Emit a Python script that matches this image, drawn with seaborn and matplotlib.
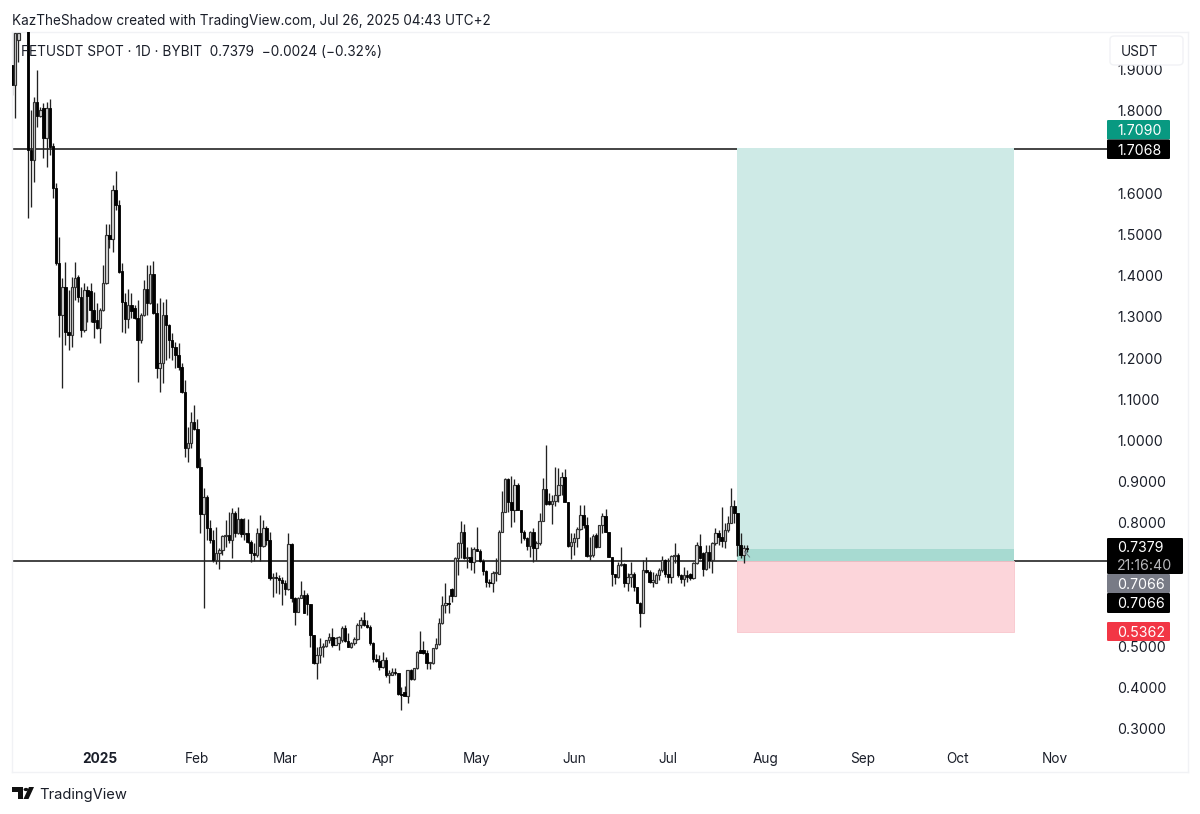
import matplotlib
matplotlib.use("Agg")
import matplotlib.pyplot as plt
import matplotlib.dates as mdates
from matplotlib.patches import FancyBboxPatch, Polygon, Rectangle
import pandas as pd
import seaborn as sns

start_date = "2024-12-04"
opens = [1.912,1.863,1.972,2.02,2.15,2.10,1.705,1.681,1.822,1.788,
1.807,1.734,1.807,1.715,1.613,1.431,1.305,1.373,1.264,1.256,
1.373,1.397,1.349,1.268,1.366,1.363,1.317,1.293,1.273,1.317,
1.383,1.499,1.489,1.608,1.572,1.412,1.336,1.295,1.329,1.322,
1.298,1.244,1.305,1.368,1.334,1.404,1.310,1.176,1.188,1.305,
1.281,1.244,1.227,1.208,1.179,1.118,.982,.994,1.045,1.028,
.936,.822,.863,.788,.759,.710,.727,.734,.768,.771,
.759,.824,.776,.810,.773,.776,.754,.727,.722,.776,
.744,.788,.759,.667,.669,.667,.662,.654,.640,.749,
.618,.584,.618,.625,.625,.603,.528,.460,.480,.499,
.502,.516,.523,.504,.509,.516,.545,.514,.499,.509,
.518,.552,.564,.552,.547,.509,.470,.465,.450,.468,
.431,.431,.438,.436,.385,.390,.380,.443,.421,.448,
.492,.492,.485,.460,.460,.497,.506,.557,.601,.606,
.640,.623,.715,.752,.778,.715,.717,.705,.737,.732,
.708,.684,.657,.655,.679,.676,.778,.827,.907,.851,
.832,.892,.832,.778,.764,.744,.778,.739,.752,.805,
.883,.853,.846,.853,.868,.892,.912,.851,.744,.754,
.764,.785,.819,.795,.720,.722,.771,.742,.795,.817,
.778,.717,.676,.669,.698,.700,.654,.669,.676,.645,
.606,.582,.686,.681,.657,.655,.674,.686,.710,.676,
.669,.720,.722,.674,.664,.674,.676,.667,.703,.744,
.727,.688,.730,.710,.752,.776,.766,.756,.783,.800,
.841,.824,.747,.722,.7403]
closes = [1.863,1.989,1.989,2.15,2.10,1.705,1.681,1.822,1.788,1.802,
1.734,1.807,1.713,1.613,1.431,1.305,1.373,1.264,1.256,1.373,
1.395,1.349,1.268,1.366,1.352,1.317,1.288,1.273,1.317,1.383,
1.499,1.489,1.608,1.572,1.409,1.336,1.295,1.329,1.315,1.298,
1.244,1.305,1.368,1.334,1.404,1.310,1.176,1.188,1.305,1.281,
1.244,1.227,1.208,1.179,1.118,.982,.994,1.045,1.028,.936,
.822,.863,.788,.759,.710,.727,.734,.768,.771,.759,
.824,.776,.810,.773,.776,.754,.727,.722,.776,.744,
.788,.759,.667,.669,.667,.662,.654,.640,.749,.618,
.584,.618,.625,.582,.603,.528,.460,.480,.499,.502,
.516,.523,.504,.521,.523,.545,.514,.499,.509,.518,
.552,.564,.552,.547,.509,.470,.465,.450,.468,.431,
.436,.438,.436,.385,.383,.380,.443,.421,.448,.487,
.485,.485,.460,.462,.497,.506,.557,.601,.606,.603,
.623,.715,.752,.778,.715,.717,.705,.737,.732,.708,
.684,.657,.655,.679,.681,.778,.827,.907,.851,.832,
.892,.832,.778,.764,.744,.778,.739,.752,.805,.883,
.846,.846,.853,.868,.892,.912,.851,.744,.754,.764,
.785,.819,.795,.720,.722,.768,.742,.795,.817,.778,
.717,.676,.669,.698,.700,.654,.669,.676,.645,.606,
.582,.686,.681,.657,.662,.674,.686,.710,.676,.669,
.720,.722,.674,.664,.674,.669,.667,.703,.747,.715,
.688,.730,.710,.752,.776,.766,.756,.783,.800,.841,
.824,.747,.722,.7403,.7379]
highs = [2.05,2.08,2.07,2.20,2.25,2.15,1.802,1.834,1.900,1.810,
1.819,1.822,1.829,1.722,1.625,1.494,1.395,1.433,1.366,1.397,
1.433,1.402,1.373,1.383,1.375,1.383,1.361,1.334,1.322,1.426,
1.526,1.526,1.620,1.654,1.584,1.431,1.358,1.368,1.358,1.329,
1.341,1.310,1.390,1.426,1.426,1.436,1.334,1.346,1.336,1.344,
1.283,1.261,1.239,1.237,1.188,1.147,1.033,1.069,1.086,1.052,
.958,.885,.868,.807,.783,.790,.739,.771,.807,.827,
.836,.829,.839,.812,.812,.810,.759,.752,.788,.819,
.807,.793,.778,.679,.681,.674,.669,.662,.776,.752,
.620,.620,.659,.637,.630,.603,.528,.499,.521,.509,
.516,.533,.545,.523,.526,.550,.552,.533,.511,.523,
.557,.572,.584,.564,.552,.511,.482,.480,.487,.475,
.443,.448,.448,.436,.402,.405,.443,.445,.448,.489,
.538,.514,.492,.463,.497,.521,.569,.623,.654,.625,
.642,.717,.754,.805,.798,.742,.742,.742,.790,.737,
.713,.686,.664,.684,.715,.783,.878,.909,.909,.914,
.907,.897,.832,.783,.766,.781,.788,.756,.824,.909,
.989,.873,.868,.936,.934,.924,.931,.851,.776,.776,
.790,.844,.844,.815,.766,.773,.776,.795,.824,.834,
.778,.717,.676,.705,.742,.702,.679,.705,.681,.645,
.608,.710,.717,.686,.681,.679,.691,.720,.713,.715,
.722,.752,.727,.676,.693,.686,.679,.705,.754,.773,
.730,.747,.747,.754,.788,.783,.839,.800,.817,.885,
.856,.824,.776,.747,.747]
lows = [1.839,1.783,1.919,2.00,2.05,1.540,1.567,1.628,1.761,1.785,
1.686,1.664,1.693,1.589,1.426,1.251,1.128,1.232,1.220,1.227,
1.341,1.336,1.251,1.264,1.288,1.288,1.249,1.271,1.237,1.315,
1.380,1.467,1.458,1.560,1.407,1.264,1.261,1.273,1.298,1.295,
1.142,1.237,1.302,1.305,1.332,1.307,1.152,1.118,1.140,1.196,
1.201,1.196,1.176,1.171,1.115,.960,.948,.982,1.026,.933,
.776,.594,.759,.752,.705,.700,.688,.722,.742,.752,
.715,.766,.773,.766,.759,.752,.705,.708,.717,.708,
.742,.747,.662,.620,.630,.628,.601,.625,.637,.608,
.553,.584,.618,.582,.577,.499,.458,.421,.460,.475,
.499,.509,.499,.504,.492,.511,.511,.499,.497,.504,
.516,.545,.550,.545,.504,.463,.463,.443,.448,.426,
.412,.431,.431,.383,.346,.380,.363,.419,.419,.445,
.485,.482,.445,.445,.458,.494,.504,.554,.582,.582,
.608,.623,.674,.715,.713,.691,.686,.679,.732,.705,
.674,.645,.645,.632,.659,.676,.778,.827,.827,.790,
.802,.832,.752,.759,.734,.717,.705,.710,.747,.805,
.844,.844,.798,.841,.851,.868,.851,.742,.713,.722,
.742,.783,.788,.717,.710,.717,.739,.742,.776,.778,
.717,.647,.652,.667,.696,.645,.635,.645,.635,.606,
.548,.582,.679,.654,.645,.654,.662,.681,.669,.654,
.654,.703,.669,.654,.647,.657,.662,.664,.700,.713,
.671,.686,.691,.679,.747,.747,.742,.739,.778,.800,
.800,.720,.715,.703,.730]
x_months = ["2025-01-01","2025-02-01","2025-03-01","2025-04-01","2025-05-01","2025-06-01",
            "2025-07-01","2025-08-01","2025-09-01","2025-10-01","2025-11-01"]
x_labels = ["2025","Feb","Mar","Apr","May","Jun","Jul","Aug","Sep","Oct","Nov"]
price_ticks = [0.3,0.4,0.5,0.6,0.7,0.8,0.9,1.0,1.1,1.2,1.3,1.4,1.5,1.6,1.7,1.8,1.9]
hidden_ticks = [0.6,0.7,1.7]
target_price, line_upper, entry_price, stop_price = 1.7090, 1.7068, 0.7066, 0.5362
last_price = 0.7379
pos_start, pos_end = "2025-07-23", "2025-10-19"

W, H = 1200, 814
sns.set_theme(style="white")
plt.rcParams["font.family"] = ["Inter", "DejaVu Sans"]
INK = "#1A1E29"

def fx(p): return p / W
def fy(p): return 1 - p / H

fig = plt.figure(figsize=(W / 100, H / 100), dpi=100, facecolor="white")
ax = fig.add_axes([fx(12), fy(772), (1188 - 12) / W, (772 - 32) / H])

dates = pd.date_range(start_date, periods=len(opens), freq="D")
wicks = pd.DataFrame({
    "date": list(dates) + list(dates),
    "price": highs + lows,
    "candle": list(range(len(dates))) * 2,
})
sns.lineplot(data=wicks, x="date", y="price", units="candle", estimator=None, sort=False,
             color="#222222", linewidth=0.95, ax=ax, legend=False, zorder=2,
             solid_capstyle="butt")

frame = pd.DataFrame({"date": dates, "open": opens, "close": closes})
up = frame[frame["close"] >= frame["open"]]
dn = frame[frame["close"] < frame["open"]]
ax.bar(up["date"], (up["close"] - up["open"]), bottom=up["open"], width=0.78,
       facecolor="#D8D8D8", edgecolor="#333333", linewidth=0.85, zorder=3)
ax.bar(dn["date"], (dn["open"] - dn["close"]), bottom=dn["close"], width=0.78,
       facecolor="black", edgecolor="black", linewidth=0.6, zorder=3)

# x range: 3.14 px per day, Jan 1 2025 at x = 100
jan1 = mdates.date2num(pd.Timestamp("2025-01-01"))
ax.set_xlim(jan1 + (12 - 100) / 3.14, jan1 + (1188 - 100) / 3.14)
ax.set_ylim(0.3 + (729 - 772) / 412, 0.3 + (729 - 32) / 412)

line_end = jan1 + (1107 - 100) / 3.14
ax.hlines([line_upper, entry_price], jan1 + (12 - 100) / 3.14, line_end,
          color="#111111", linewidth=1.1, zorder=1)

ps, pe = mdates.date2num(pd.Timestamp(pos_start)), mdates.date2num(pd.Timestamp(pos_end))
ax.add_patch(Rectangle((ps, entry_price), pe - ps, target_price - entry_price,
                       facecolor="#CEEAE6", edgecolor="none", zorder=1.5))
ax.add_patch(Rectangle((ps, entry_price), pe - ps, last_price - entry_price,
                       facecolor="#A7DAD1", edgecolor="none", zorder=1.6))
ax.add_patch(Rectangle((ps, stop_price), pe - ps, entry_price - stop_price,
                       facecolor="#FCD5DA", edgecolor="#F9C6CC", linewidth=0.6, zorder=1.5))
ax.annotate("", xy=(jan1 + 204.5, 0.738), xytext=(jan1 + 207.5, 0.712),
            arrowprops=dict(arrowstyle="->", color="#6b7a80", lw=0.7, mutation_scale=5), zorder=4)

ax.set_xlabel("")
ax.set_ylabel("")
ax.set_xticks([mdates.date2num(pd.Timestamp(m)) for m in x_months])
ax.set_xticklabels(x_labels)
ax.xaxis.set_tick_params(length=0, pad=-14.2, labelsize=9.8, labelcolor=INK)
ax.get_xticklabels()[0].set_fontweight("bold")
shown = [p for p in price_ticks if p not in hidden_ticks]
ax.yaxis.tick_right()
ax.set_yticks(shown)
ax.set_yticklabels([f"{p:.4f}" for p in shown])
ax.yaxis.set_tick_params(length=0, pad=-51, labelsize=10.2, labelcolor=INK)
ax.grid(False)
for s in ax.spines.values():
    s.set_color("#F1F2F5")
    s.set_linewidth(1.0)

def tag(x0, y0, x1, y1, color, lines, colors=("white",)):
    fig.add_artist(FancyBboxPatch((fx(x0), fy(y1)), (x1 - x0) / W, (y1 - y0) / H,
                                  boxstyle="round,pad=0,rounding_size=0.0012",
                                  transform=fig.transFigure, facecolor=color,
                                  edgecolor="none", zorder=10))
    n = len(lines)
    for i, t in enumerate(lines):
        yc = y0 + (y1 - y0) * (i + 0.5) / n
        fig.text(fx(1117), fy(yc), t, color=colors[min(i, len(colors) - 1)], fontsize=10.2,
                 ha="left", va="center_baseline", zorder=11)

tag(1107, 120, 1170, 139.5, "#089981", [f"{target_price:.4f}"])
tag(1107, 139.5, 1170, 159, "#000000", [f"{line_upper:.4f}"])
tag(1107, 538, 1183, 574, "#000000", [f"{last_price:.4f}", "21:16:40"], ("white", "#B8B8BC"))
tag(1107, 574, 1170, 593, "#787B86", [f"{entry_price:.4f}"])
tag(1107, 593, 1170, 613, "#000000", [f"{entry_price:.4f}"])
tag(1107, 622, 1170, 641, "#F23645", [f"{stop_price:.4f}"])

fig.add_artist(FancyBboxPatch((fx(1110), fy(65)), 73 / W, 29 / H,
                              boxstyle="round,pad=0,rounding_size=0.004",
                              transform=fig.transFigure, facecolor="white",
                              edgecolor="#F1F2F5", linewidth=1, zorder=10))
fig.text(fx(1121), fy(50.5), "USDT", color=INK, fontsize=9.8, ha="left", va="center_baseline", zorder=11)

fig.text(fx(12), fy(20), "KazTheShadow created with TradingView.com, Jul 26, 2025 04:43 UTC+2",
         color=INK, fontsize=9.75, ha="left", va="center_baseline")
fig.text(fx(21), fy(51), "FETUSDT SPOT · 1D · BYBIT  0.7379  −0.0024 (−0.32%)",
         color=INK, fontsize=9.8, ha="left", va="center_baseline", zorder=11)
fig.text(fx(39), fy(793), "TradingView", color=INK, fontsize=10.6, ha="left", va="center_baseline")

# TradingView mark
logo = [
    [(12, 787), (23, 787), (23, 799), (17.5, 799), (17.5, 792), (12, 792)],
    [(29, 787), (34, 787), (28.5, 799), (23.5, 799)],
]
for pts in logo:
    fig.add_artist(Polygon([(fx(a), fy(b)) for a, b in pts], closed=True,
                           transform=fig.transFigure, facecolor="#111111", edgecolor="none"))
fig.add_artist(plt.Circle((fx(26), fy(789.5)), 2.4 / W, transform=fig.transFigure,
                          facecolor="#111111", edgecolor="none"))

fig.savefig("out.png", dpi=100)
